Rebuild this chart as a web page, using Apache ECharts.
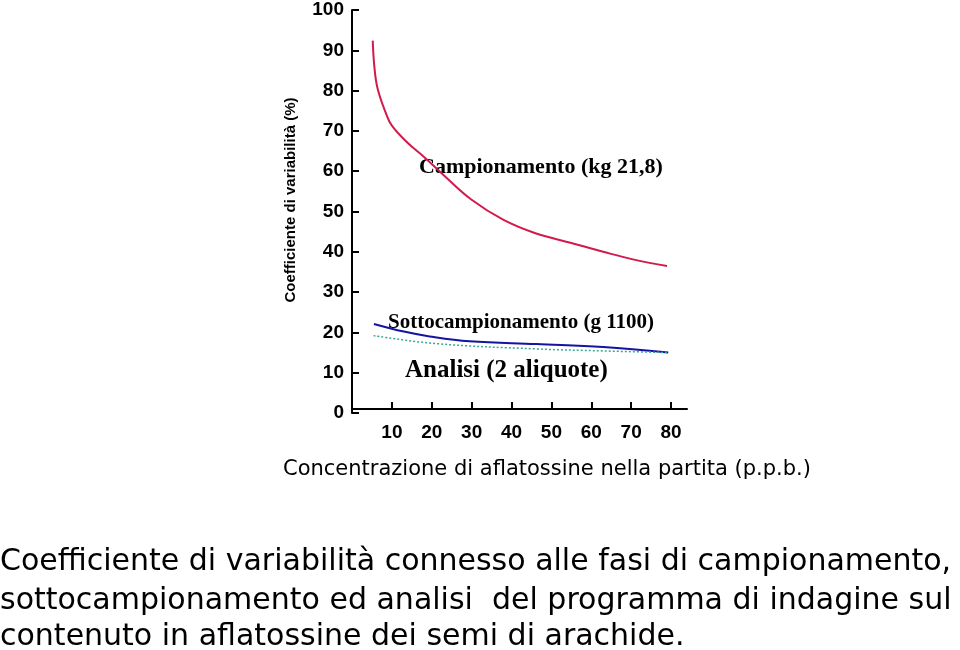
<!DOCTYPE html>
<html>
<head>
<meta charset="utf-8">
<script src="https://cdn.jsdelivr.net/npm/echarts@6/dist/echarts.min.js"></script>
<style>html,body{margin:0;padding:0;background:#fff;}#c{width:960px;height:650px;}</style>
</head>
<body>
<div id="c"></div>
<script>
// Data
var xTicks = [10, 20, 30, 40, 50, 60, 70, 80];
var campX = [5.2, 5.6, 6.4, 8.5, 10, 14, 18, 23, 30, 38, 46, 55, 63, 71, 79];
var campY = [92.4, 86, 80.6, 74.4, 71.3, 67, 63.6, 59, 52.9, 47.9, 44.6, 42.2, 40, 38, 36.5];
var sottoX = [5.5, 13, 19.5, 29.5, 46.2, 63, 79.3];
var sottoY = [22.1, 20.2, 19, 17.8, 17.1, 16.4, 15];
var analX = [5.4, 21.3, 46.2, 63, 79.3];
var analY = [19.2, 17.2, 15.9, 15.4, 15];
var yTitle = 'Coefficiente di variabilità (%)';
var xTitle = 'Concentrazione di aflatossine nella partita (p.p.b.)';
var labCamp = 'Campionamento (kg 21,8)';
var labSotto = 'Sottocampionamento (g 1100)';
var labAnal = 'Analisi (2 aliquote)';
var caption = [
  'Coefficiente di variabilità connesso alle fasi di campionamento,',
  'sottocampionamento ed analisi  del programma di indagine sul',
  'contenuto in aflatossine dei semi di arachide.'
];

function pairs(xs, ys) { return xs.map(function (x, i) { return [x, ys[i]]; }); }

var narrow = "'Liberation Sans Narrow', 'Liberation Sans', Arial, sans-serif";
var serif = "'Liberation Serif', 'DejaVu Serif', serif";
var sans = "'DejaVu Sans', sans-serif";

var chart = echarts.init(document.getElementById('c'), null, { renderer: 'canvas' });
chart.setOption({
  backgroundColor: '#fff',
  animation: false,
  grid: { left: 352, top: 10, width: 335, bottom: 237, containLabel: false },
  xAxis: {
    type: 'value', min: 0, max: 84, interval: 10, offset: -4,
    splitLine: { show: false },
    axisLine: { onZero: false, lineStyle: { color: '#000', width: 2 } },
    axisTick: { inside: true, length: 7, customValues: xTicks, lineStyle: { color: '#000', width: 2 } },
    axisLabel: { customValues: xTicks, margin: 14, color: '#000', fontFamily: narrow, fontWeight: 'bold', fontSize: 19 }
  },
  yAxis: {
    type: 'value', min: 0, max: 100, interval: 10,
    splitLine: { show: false },
    axisLine: { show: true, onZero: false, lineStyle: { color: '#000', width: 2 } },
    axisTick: { show: true, inside: true, length: 7, lineStyle: { color: '#000', width: 2 } },
    axisLabel: { margin: 8, color: '#000', fontFamily: narrow, fontWeight: 'bold', fontSize: 19 }
  },
  series: [
    { type: 'line', data: pairs(campX, campY), smooth: 0.4, symbol: 'none',
      lineStyle: { color: '#d21a4c', width: 2 } },
    { type: 'line', data: pairs(sottoX, sottoY), smooth: 0.4, symbol: 'none',
      lineStyle: { color: '#1414a0', width: 2 } },
    { type: 'line', data: pairs(analX, analY), smooth: 0.4, symbol: 'none',
      lineStyle: { color: '#3aa898', width: 1.5, type: [2, 2] } }
  ],
  graphic: [
    { type: 'text', x: 291, y: 200, rotation: Math.PI / 2,
      style: { text: yTitle, font: 'bold 15px ' + narrow, fill: '#000', align: 'center', verticalAlign: 'middle' } },
    { type: 'text', x: 283, y: 470,
      style: { text: xTitle, font: '21px ' + sans, fill: '#000', align: 'left', verticalAlign: 'middle' } },
    { type: 'text', x: 419, y: 167,
      style: { text: labCamp, font: 'bold 22px ' + serif, fill: '#000', align: 'left', verticalAlign: 'middle' } },
    { type: 'text', x: 388, y: 323,
      style: { text: labSotto, font: 'bold 21px ' + serif, fill: '#000', align: 'left', verticalAlign: 'middle' } },
    { type: 'text', x: 405, y: 371,
      style: { text: labAnal, font: 'bold 25px ' + serif, fill: '#000', align: 'left', verticalAlign: 'middle' } },
    { type: 'text', x: 0, y: 562,
      style: { text: caption[0], font: '30px ' + sans, fill: '#000', align: 'left', verticalAlign: 'middle' } },
    { type: 'text', x: 0, y: 601,
      style: { text: caption[1], font: '30px ' + sans, fill: '#000', align: 'left', verticalAlign: 'middle' } },
    { type: 'text', x: 0, y: 637,
      style: { text: caption[2], font: '30px ' + sans, fill: '#000', align: 'left', verticalAlign: 'middle' } }
  ]
});
</script>
</body>
</html>
